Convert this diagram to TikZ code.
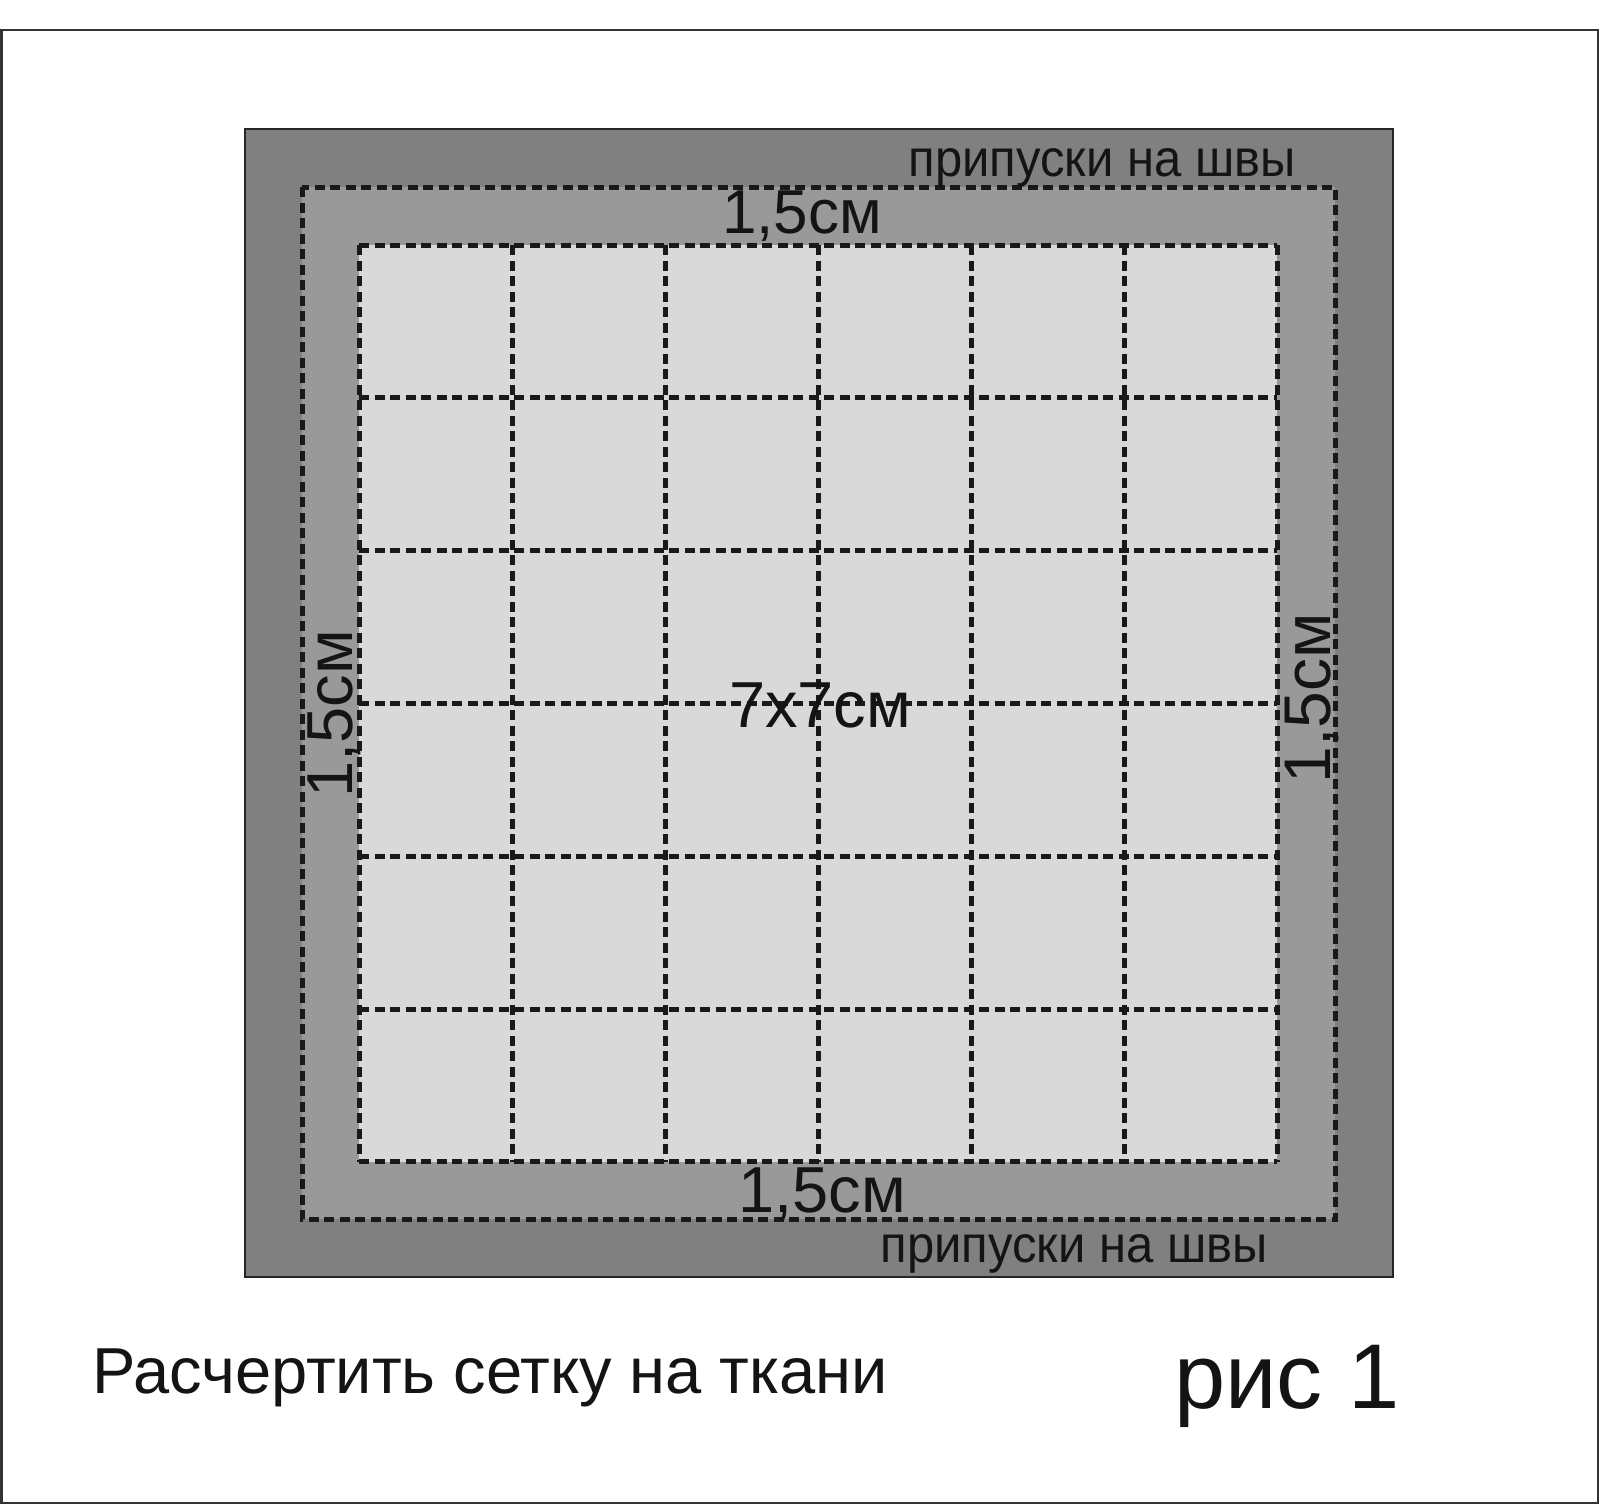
\documentclass[tikz,border=0pt]{standalone}
\usepackage{fontspec}
\setmainfont{Liberation Sans}
\begin{document}
\begin{tikzpicture}[x=1pt,y=-1pt,
  seam/.style={line width=5pt, dash pattern=on 10pt off 5.5pt, draw=black!90},
  lbl/.style={inner sep=0pt, anchor=base, text=black!92},
]
\useasboundingbox (0,0) rectangle (1600,1505);
% outer frame
\draw[line width=2.2pt, draw=black!80] (1.5,30) rectangle (1598,1503);
% seam allowance (dark) area
\coordinate (d1) at (245,129);
\coordinate (d2) at (1393,1277);
\filldraw[fill=black!50, draw=black!85, line width=2pt] (d1) rectangle (d2);
% middle band
\coordinate (m1) at (302,187);
\coordinate (m2) at (1335,1219);
\fill[black!40] (m1) rectangle (m2);
% inner fabric
\coordinate (g1) at (359,245);
\coordinate (g2) at (1277,1162);
\fill[black!15] (g1) rectangle (g2);
% dashed outlines
\draw[seam] (m1) rectangle (m2);
\foreach \i in {0,...,6}{
  \draw[seam] (359+153*\i,245) -- (359+153*\i,1162);
  \draw[seam] (359,245+152.83*\i) -- (1277,245+152.83*\i);
}
% labels
\node[lbl, font=\fontsize{49}{49}\selectfont, yscale=1.06] (ptop) at (1102,176) {припуски на швы};
\node[lbl, font=\fontsize{49}{49}\selectfont, yscale=1.06] (pbot) at (1074,1262) {припуски на швы};
\node[lbl, font=\fontsize{62}{62}\selectfont] (stop) at (802,233) {1,5см};
\node[lbl, font=\fontsize{65}{65}\selectfont] (sbot) at (822,1212) {1,5см};
\node[lbl, font=\fontsize{65}{65}\selectfont] (mid) at (820,727) {7х7см};
\node[lbl, font=\fontsize{65}{65}\selectfont, rotate=90] (sleft) at (352,714) {1,5см};
\node[lbl, font=\fontsize{66}{66}\selectfont, rotate=90] (sright) at (1330,698) {1,5см};
\node[lbl, anchor=base west, font=\fontsize{65}{65}\selectfont] (cap) at (92,1393) {Расчертить сетку на ткани};
\node[lbl, anchor=base west, font=\fontsize{92}{92}\selectfont] (fig) at (1174,1408) {рис 1};
\end{tikzpicture}
\end{document}
